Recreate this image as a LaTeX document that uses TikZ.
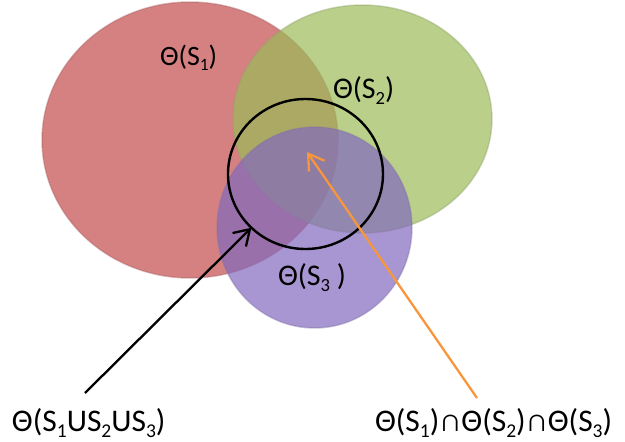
\documentclass[tikz,border=0pt]{standalone}
\usepackage{fontspec}
\usepackage{graphicx}
\setmainfont{Carlito}
\usetikzlibrary{shapes.geometric,arrows.meta}
\newcommand{\lowidx}[1]{\raisebox{-0.2em}{\scalebox{0.62}{#1}}}
\definecolor{setred}{RGB}{195,75,75}
\definecolor{setgreen}{RGB}{155,187,89}
\definecolor{setpurple}{RGB}{130,105,190}
\definecolor{arroworange}{RGB}{247,150,60}
\begin{document}
\begin{tikzpicture}[x=1pt,y=-1pt,
  setshape/.style={ellipse,inner sep=0pt,outer sep=0pt,fill opacity=0.7,draw opacity=0.4,line width=1.5pt},
  ring/.style={ellipse,inner sep=0pt,outer sep=0pt,draw=black,line width=2.4pt},
  lbl/.style={inner sep=0pt,outer sep=0pt,anchor=base west,text=black},
  conn/.style={line width=2.3pt,-{Straight Barb[length=15pt,width=19pt,line width=2.3pt]}}]
\useasboundingbox (0,0) rectangle (625,442);
\node[setshape,fill=setred,draw=setred!60!gray,minimum width=296pt,minimum height=276pt] (A) at (190,140) {};
\node[setshape,fill=setgreen,draw=setgreen!60!gray,minimum width=259pt,minimum height=228pt] (B) at (362.5,119) {};
\node[setshape,fill=setpurple,draw=setpurple!60!gray,minimum width=195pt,minimum height=201pt] (C) at (314.5,227.5) {};
\node[ring,minimum width=155pt,minimum height=150pt] (U) at (305.5,174) {};
\node[lbl,font=\fontsize{28}{34}\selectfont] (tA) at (160,65) {Θ(S\lowidx{1})};
\node[lbl,font=\fontsize{30}{36}\selectfont] (tB) at (333,98) {Θ(S\lowidx{2})};
\node[lbl,font=\fontsize{30}{36}\selectfont] (tC) at (278,285) {Θ(S\lowidx{3} )};
\node[lbl,font=\fontsize{31.5}{38}\selectfont] (tU) at (12,431) {Θ(S\lowidx{1}US\lowidx{2}US\lowidx{3})};
\node[lbl,font=\fontsize{31.5}{38}\selectfont] (tI) at (375,431) {Θ(S\lowidx{1})∩Θ(S\lowidx{2})∩Θ(S\lowidx{3})};
\coordinate (uStart) at (85,393);
\coordinate (iStart) at (477,398);
\coordinate (iEnd) at (307,152);
\draw[conn,black] (uStart) -- (U);
\draw[conn,arroworange] (iStart) -- (iEnd);
\end{tikzpicture}
\end{document}
